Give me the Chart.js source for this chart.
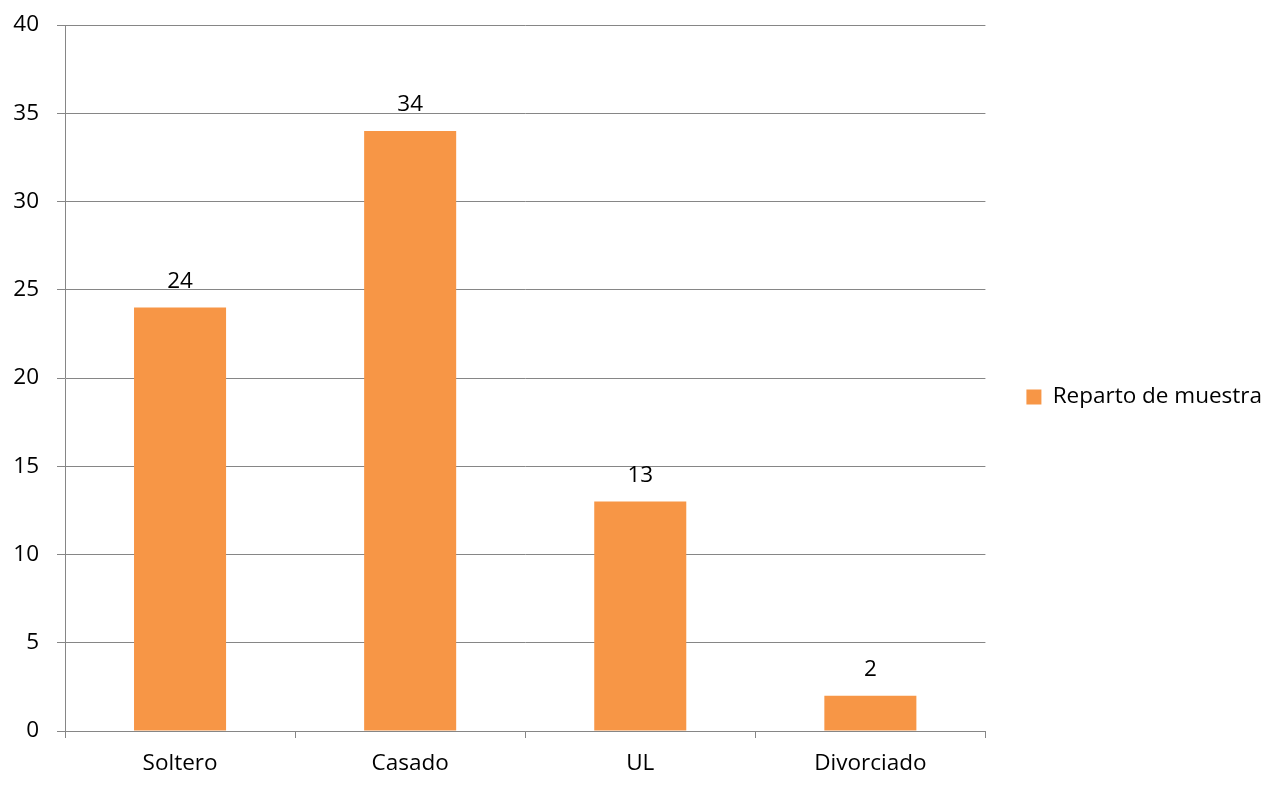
<!DOCTYPE html>
<html>
<head>
<meta charset="utf-8">
<script src="https://cdn.jsdelivr.net/npm/chart.js@4"></script>
<style>
  html, body { margin: 0; padding: 0; background: #fff; }
  #wrap { width: 1272px; height: 792px; }
</style>
</head>
<body>
<div id="wrap"><canvas id="c" width="1272" height="792"></canvas></div>
<script>
const categories = ["Soltero", "Casado", "UL", "Divorciado"];
const seriesName = "Reparto de muestra";
const values = [24, 34, 13, 2];
const yTicks = [0, 5, 10, 15, 20, 25, 30, 35, 40];

const FONT = "'Open Sans', sans-serif";
const FSIZE = 22.5;
const GRID = '#868686';

const valueLabels = {
  id: 'valueLabels',
  afterDatasetsDraw(chart) {
    const ctx = chart.ctx;
    const meta = chart.getDatasetMeta(0);
    ctx.save();
    ctx.font = FSIZE + 'px ' + FONT;
    ctx.fillStyle = '#000';
    ctx.textAlign = 'center';
    ctx.textBaseline = 'middle';
    meta.data.forEach((bar, i) => {
      ctx.fillText(String(chart.data.datasets[0].data[i]), bar.x, bar.y - 26);
    });
    ctx.restore();
  }
};

new Chart(document.getElementById('c'), {
  type: 'bar',
  data: {
    labels: categories,
    datasets: [{
      label: seriesName,
      data: values,
      backgroundColor: '#F79646',
      borderWidth: 0,
      barPercentage: 0.4,
      categoryPercentage: 1.0
    }]
  },
  options: {
    responsive: false,
    animation: false,
    devicePixelRatio: 1,
    layout: { padding: { top: 2, right: 0, bottom: 0, left: 0 } },
    plugins: {
      title: {
        display: true,
        text: '',
        fullSize: false,
        padding: 0,
        font: { size: 23, lineHeight: 1 }
      },
      legend: {
        position: 'right',
        align: 'center',
        maxWidth: 320,
        labels: {
          boxWidth: 15,
          boxHeight: 15,
          padding: 10,
          color: '#000',
          font: { family: FONT, size: FSIZE }
        }
      },
      tooltip: { enabled: false }
    },
    scales: {
      x: {
        afterFit(s) { s.height = 61; },
        grid: { drawOnChartArea: false, drawTicks: true, tickLength: 7, color: GRID, lineWidth: 1 },
        border: { color: GRID, width: 1 },
        ticks: { color: '#000', padding: 12, font: { family: FONT, size: FSIZE } }
      },
      y: {
        min: 0, max: 40,
        afterFit(s) { s.width = 65; s.paddingTop = 0; s.paddingBottom = 0; },
        afterBuildTicks(s) { s.ticks = yTicks.map(v => ({ value: v })); },
        grid: { color: GRID, lineWidth: 1, tickLength: 8 },
        border: { color: GRID, width: 1 },
        ticks: { color: '#000', padding: 18, font: { family: FONT, size: FSIZE } }
      },
      spacer: {
        position: 'right',
        display: true,
        afterFit(s) { s.width = 31; },
        grid: { display: false, drawTicks: false },
        border: { display: false },
        ticks: { display: false }
      }
    }
  },
  plugins: [valueLabels]
});
</script>
</body>
</html>
